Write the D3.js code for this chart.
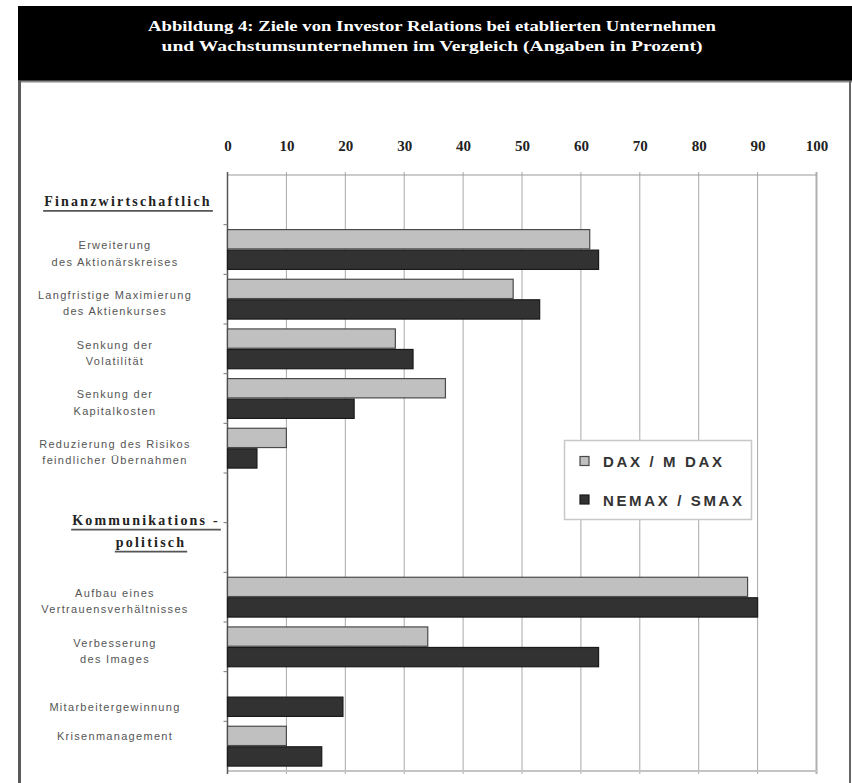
<!DOCTYPE html>
<html>
<head>
<meta charset="utf-8">
<script src="https://cdn.jsdelivr.net/npm/d3@7"></script>
<style>
  html, body { margin: 0; padding: 0; background: #fff; }
  svg { display: block; }
</style>
</head>
<body>
<svg id="chart" width="852" height="783"></svg>
<script>
// Ziele von Investor Relations – DAX/M DAX vs. NEMAX/SMAX (Angaben in Prozent)
const titleLines = [
  "Abbildung 4: Ziele von Investor Relations bei etablierten Unternehmen",
  "und Wachstumsunternehmen im Vergleich (Angaben in Prozent)"
];
const seriesNames = ["DAX / M DAX", "NEMAX / SMAX"];
const tickValues = [0, 10, 20, 30, 40, 50, 60, 70, 80, 90, 100];

const sectionTitles = [
  ["Finanzwirtschaftlich"],
  ["Kommunikations -", "politisch"]
];
const categories = [
  ["Erweiterung", "des Aktionärskreises"],
  ["Langfristige Maximierung", "des Aktienkurses"],
  ["Senkung der", "Volatilität"],
  ["Senkung der", "Kapitalkosten"],
  ["Reduzierung des Risikos", "feindlicher Übernahmen"],
  ["Aufbau eines", "Vertrauensverhältnisses"],
  ["Verbesserung", "des Images"],
  ["Mitarbeitergewinnung"],
  ["Krisenmanagement"]
];
const sectionOfCategory = [0, 0, 0, 0, 0, 1, 1, 1, 1];
const daxValues   = [61.5, 48.5, 28.5, 37, 10, 88.3, 34, 0, 10];
const nemaxValues = [63, 53, 31.5, 21.5, 5, 90, 63, 19.6, 16];

// Row layout: each section opens with a header row (the second one spans two rows)
const rows = [];
sectionTitles.forEach((t, s) => {
  const span = s === 0 ? 1 : 2;
  for (let k = 0; k < span; k++) rows.push({ type: "header", section: s, part: k, span });
  categories.forEach((c, i) => {
    if (sectionOfCategory[i] === s) rows.push({ type: "cat", index: i });
  });
});
const rowKeys = rows.map((r, i) => "r" + i);

const svg = d3.select("#chart");
const W = 852, H = 783;

// Frame and black title band
svg.append("rect").attr("x", 18).attr("y", 6).attr("width", W - 18).attr("height", 75).attr("fill", "#000");
svg.append("line").attr("x1", 18).attr("x2", W).attr("y1", 81.5).attr("y2", 81.5)
  .attr("stroke", "#8a8a8a").attr("stroke-width", 2);
svg.append("line").attr("x1", 19.5).attr("x2", 19.5).attr("y1", 81).attr("y2", H)
  .attr("stroke", "#5a5a5a").attr("stroke-width", 3);
svg.append("line").attr("x1", 850).attr("x2", 850).attr("y1", 81).attr("y2", H)
  .attr("stroke", "#666").attr("stroke-width", 2);

const titleWidths = [568, 541];
titleLines.forEach((t, i) => {
  svg.append("text")
    .attr("x", 432).attr("y", 31 + i * 20)
    .attr("text-anchor", "middle")
    .attr("fill", "#fff")
    .attr("font-family", "'Liberation Serif', 'DejaVu Serif', serif")
    .attr("font-weight", "bold")
    .attr("font-size", 15)
    .attr("textLength", titleWidths[i])
    .attr("lengthAdjust", "spacingAndGlyphs")
    .text(t);
});

// Scales
const plot = { left: 227.5, right: 816.5, top: 175, bottom: 771 };
const x = d3.scaleLinear().domain([0, 100]).range([plot.left, plot.right]);
const y = d3.scaleBand().domain(rowKeys).range([plot.top, plot.bottom]).padding(0);
const sub = d3.scaleBand().domain(seriesNames).range([0, y.bandwidth()])
  .paddingOuter(0.24).paddingInner(0.06);

// Gridlines
svg.append("g").selectAll("line").data(tickValues.slice(1)).join("line")
  .attr("x1", d => x(d)).attr("x2", d => x(d))
  .attr("y1", plot.top - 3).attr("y2", plot.bottom + 3)
  .attr("stroke", d => d === 100 ? "#b0b0b0" : "#a8a8a8")
  .attr("stroke-width", d => d === 100 ? 2 : 1);

// Plot borders
svg.append("line").attr("x1", plot.left).attr("x2", plot.right).attr("y1", plot.top).attr("y2", plot.top)
  .attr("stroke", "#9a9a9a").attr("stroke-width", 1.2);
svg.append("line").attr("x1", plot.left).attr("x2", plot.right + 1).attr("y1", plot.bottom).attr("y2", plot.bottom)
  .attr("stroke", "#c4c4c4").attr("stroke-width", 2);

// Top axis labels
const axisTop = d3.axisTop(x).tickValues(tickValues).tickSize(0).tickPadding(0);
const gAxis = svg.append("g").attr("transform", `translate(0,151)`).call(axisTop);
gAxis.select(".domain").remove();
gAxis.selectAll("text")
  .attr("font-family", "'Liberation Serif', 'DejaVu Serif', serif")
  .attr("font-weight", "bold")
  .attr("font-size", 15)
  .attr("fill", "#222")
  .attr("dy", 0);

// Left axis with ticks at row boundaries
svg.append("line").attr("x1", plot.left).attr("x2", plot.left)
  .attr("y1", plot.top - 3).attr("y2", plot.bottom + 3)
  .attr("stroke", "#555").attr("stroke-width", 1.5);
svg.append("g").selectAll("line").data(rowKeys.slice(1)).join("line")
  .attr("x1", plot.left - 4).attr("x2", plot.left)
  .attr("y1", d => y(d)).attr("y2", d => y(d))
  .attr("stroke", "#777").attr("stroke-width", 1);

// Bars
const colors = { [seriesNames[0]]: "#c0c0c0", [seriesNames[1]]: "#323232" };
const strokes = { [seriesNames[0]]: "#4a4a4a", [seriesNames[1]]: "#1a1a1a" };
const barData = [];
rows.forEach((r, ri) => {
  if (r.type !== "cat") return;
  [daxValues[r.index], nemaxValues[r.index]].forEach((v, si) => {
    barData.push({ row: rowKeys[ri], series: seriesNames[si], value: v });
  });
});
svg.append("g").selectAll("rect").data(barData.filter(d => d.value > 0)).join("rect")
  .attr("x", x(0))
  .attr("y", d => y(d.row) + sub(d.series))
  .attr("width", d => x(d.value) - x(0))
  .attr("height", sub.bandwidth())
  .attr("fill", d => colors[d.series])
  .attr("stroke", d => strokes[d.series])
  .attr("stroke-width", 1.2);

// Category labels
const labelX = 115;
const catLabels = svg.append("g")
  .attr("font-family", "'Liberation Sans', Arial, sans-serif")
  .attr("font-size", 11)
  .attr("fill", "#555")
  .attr("letter-spacing", 1.3)
  .attr("text-anchor", "middle");
rows.forEach((r, ri) => {
  if (r.type !== "cat") return;
  const lines = categories[r.index];
  const top = y(rowKeys[ri]);
  let cy;
  if (lines.length === 1) {
    // single-line labels sit beside their first visible bar
    const s = daxValues[r.index] > 0 ? seriesNames[0] : seriesNames[1];
    cy = top + sub(s) + sub.bandwidth() / 2;
  } else {
    cy = top + y.bandwidth() / 2 + 4;
  }
  lines.forEach((t, li) => {
    catLabels.append("text")
      .attr("x", labelX)
      .attr("y", cy + (li - (lines.length - 1) / 2) * 16.5 + 4)
      .text(t);
  });
});

// Section headers (bold, underlined)
const headerCenters = [128, 146];
rows.forEach((r, ri) => {
  if (r.type !== "header" || r.part !== 0) return;
  const lines = sectionTitles[r.section];
  const top = y(rowKeys[ri]);
  const cy = top + (y.bandwidth() * r.span) / 2 + (r.span > 1 ? 8 : 1);
  lines.forEach((t, li) => {
    const ty = cy + (li - (lines.length - 1) / 2) * 22 + 5;
    const txt = svg.append("text")
      .attr("x", headerCenters[r.section] + (li === 1 ? 5 : 0))
      .attr("y", ty)
      .attr("text-anchor", "middle")
      .attr("font-family", "'Liberation Serif', 'DejaVu Serif', serif")
      .attr("font-weight", "bold")
      .attr("font-size", 14)
      .attr("letter-spacing", 2.2)
      .attr("fill", "#222")
      .text(t);
    const len = txt.node().getComputedTextLength();
    const cx = +txt.attr("x");
    svg.append("line")
      .attr("x1", cx - len / 2 - 1).attr("x2", cx + len / 2 + 1)
      .attr("y1", ty + 5).attr("y2", ty + 5)
      .attr("stroke", "#555").attr("stroke-width", 1.6);
  });
});

// Legend
const legend = svg.append("g");
legend.append("rect").attr("x", 564.5).attr("y", 440.5).attr("width", 187).attr("height", 79)
  .attr("fill", "#fff").attr("stroke", "#c8c8c8").attr("stroke-width", 1.5);
const legendWidths = [119, 139];
seriesNames.forEach((name, i) => {
  const cy = 461.5 + i * 38.5;
  legend.append("rect").attr("x", 580).attr("y", cy - 5).attr("width", 9).attr("height", 9)
    .attr("fill", colors[name]).attr("stroke", strokes[name]).attr("stroke-width", 1.2);
  legend.append("text")
    .attr("x", 603).attr("y", cy + 5.5)
    .attr("font-family", "'Liberation Sans', Arial, sans-serif")
    .attr("font-weight", "bold")
    .attr("font-size", 15)
    .attr("fill", "#333")
    .attr("textLength", legendWidths[i])
    .attr("lengthAdjust", "spacing")
    .text(name);
});
</script>
</body>
</html>
